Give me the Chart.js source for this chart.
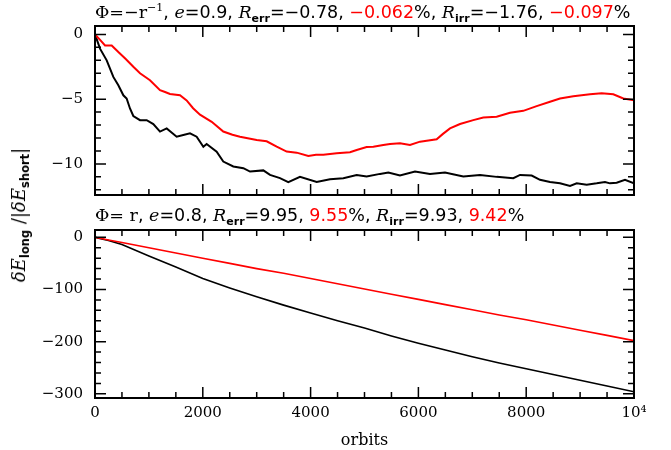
<!DOCTYPE html>
<html lang="en">
<head>
    <meta charset="utf-8">
    <title>Energy error drift</title>
    <style>
      * {
        margin: 0;
        padding: 0;
      }
      body {
        background: white;
      }
      .page {
        position: relative;
        width: 671px;
        height: 450px;
        overflow: hidden;
      }
      .panel {
        position: absolute;
        left: 0;
        width: 671px;
      }
      .ttl {
        position: absolute;
        left: 95px;
        font-family: 'DejaVu Sans', sans-serif;
        font-size: 17.5px;
        white-space: nowrap;
        color: #000;
      }
      .ttl .rm { font-family: 'DejaVu Serif', serif; }
      .ttl i { font-family: 'DejaVu Serif', serif; font-style: italic; }
      .ttl sub { font-size: 11px; font-weight: bold; vertical-align: -4px; }
      .ttl sup { font-size: 11px; vertical-align: 7px; }
      .red { color: #ff0000; }
      .ylab {
        position: absolute;
        left: 20px;
        top: 215px;
        transform: translate(-50%, -50%) rotate(-90deg);
        font-family: 'DejaVu Serif', serif;
        font-size: 18px;
        white-space: nowrap;
      }
      .ylab i { font-style: italic; }
      .ylab sub { font-size: 11.5px; font-weight: bold; font-family: 'DejaVu Sans', sans-serif; vertical-align: -4px; }
    </style>
</head>
<body>
    <div class="page">
      <div class="panel" style="top:0;height:205px"><canvas id="topChart"></canvas></div>
      <div class="panel" style="top:205px;height:245px"><canvas id="botChart"></canvas></div>
      <div class="ttl" style="top:1px"><span class="rm">Φ=−r<sup>−1</sup></span>, <i>e</i>=0.9, <i>R</i><sub>err</sub>=−0.78, <span class="red">−0.062</span>%, <i>R</i><sub>irr</sub>=−1.76, <span class="red">−0.097</span>%</div>
      <div class="ttl" style="top:205px"><span class="rm">Φ= r</span>, <i>e</i>=0.8, <i>R</i><sub>err</sub>=9.95, <span class="red">9.55</span>%, <i>R</i><sub>irr</sub>=9.93, <span class="red">9.42</span>%</div>
      <div class="ylab"><i>δE</i><sub>long</sub> /|<i>δE</i><sub>short</sub>|</div>
    </div>
    <script src="https://cdn.jsdelivr.net/npm/chart.js/dist/chart.umd.min.js"></script>
    <script>
        // top panel: Phi = -1/r, e = 0.9
        const topRedX = [0, 90, 186, 310, 433, 570, 711, 835, 1020, 1206, 1300, 1391, 1577, 1700, 1820, 1948, 2165, 2380, 2550, 2690, 3000, 3185, 3371, 3556, 3742, 3958, 4100, 4236, 4484, 4731, 4855, 5040, 5164, 5349, 5473, 5658, 5844, 6030, 6339, 6450, 6586, 6772, 7018, 7204, 7452, 7699, 7946, 8194, 8442, 8627, 8874, 9184, 9400, 9616, 9802, 10000];
        const topRedY = [0, -0.4, -0.85, -0.85, -1.36, -1.9, -2.5, -3.0, -3.54, -4.3, -4.45, -4.6, -4.7, -5.1, -5.7, -6.2, -6.75, -7.5, -7.75, -7.9, -8.15, -8.25, -8.67, -9.05, -9.13, -9.38, -9.3, -9.3, -9.18, -9.1, -8.92, -8.7, -8.67, -8.54, -8.46, -8.41, -8.54, -8.28, -8.1, -7.7, -7.26, -6.92, -6.62, -6.41, -6.36, -6.05, -5.9, -5.54, -5.2, -4.95, -4.77, -4.62, -4.55, -4.62, -4.95, -5.08];
        const topBlackX = [0, 93, 217, 340, 433, 526, 587, 649, 711, 835, 959, 1082, 1206, 1330, 1515, 1638, 1762, 1886, 2010, 2071, 2257, 2380, 2566, 2752, 2876, 3123, 3247, 3432, 3586, 3803, 4113, 4360, 4607, 4855, 5040, 5288, 5442, 5658, 5937, 6215, 6493, 6833, 7143, 7452, 7761, 7885, 8102, 8256, 8442, 8627, 8813, 8937, 9122, 9308, 9462, 9555, 9678, 9833, 10000];
        const topBlackY = [0, -1.1, -2.0, -3.28, -3.92, -4.7, -4.95, -5.72, -6.3, -6.62, -6.62, -6.92, -7.5, -7.26, -7.9, -7.77, -7.64, -7.9, -8.67, -8.46, -9.05, -9.82, -10.2, -10.33, -10.59, -10.5, -10.85, -11.1, -11.4, -11.0, -11.4, -11.18, -11.1, -10.85, -10.97, -10.77, -10.67, -10.9, -10.59, -10.77, -10.67, -10.97, -10.85, -11.0, -11.1, -10.85, -10.9, -11.23, -11.4, -11.5, -11.7, -11.5, -11.6, -11.5, -11.4, -11.5, -11.45, -11.23, -11.5];

        // bottom panel: Phi = r, e = 0.8
        const botX = [0, 250, 500, 1000, 1500, 2000, 2500, 3000, 3500, 4000, 4500, 5000, 5500, 6000, 6500, 7000, 7500, 8000, 8500, 9000, 9500, 10000];
        const botRed = [0, -5, -10, -20, -30, -40, -50, -60, -69, -79, -89, -99, -109, -119, -129, -139, -149, -158, -168, -178, -188, -198];
        const botBlack = [0, -6, -14, -36, -57, -79, -97, -114, -130, -145, -160, -174, -189, -203, -216, -229, -241, -252, -263, -274, -285, -296];

        // labelled ticks
        const xTickLabels = [0, 2000, 4000, 6000, 8000, 10000];
        const topYTicks = [0, -5, -10];
        const botYTicks = [0, -100, -200, -300];

        const pts = (xs, ys) => xs.map((x, i) => ({ x: x, y: ys[i] }));
        const minus = v => (v < 0 ? '\u2212' + Math.abs(v) : String(v));

        function stepsBetween(lo, hi, step) {
            const out = [];
            for (let v = Math.ceil(lo / step) * step; v <= hi + 1e-9; v += step) out.push(v);
            return out;
        }

        // box frame with inward ticks on all four sides
        const frameTicks = {
            id: 'frameTicks',
            afterDraw(chart, args, opts) {
                const { ctx, chartArea: a, scales } = chart;
                const x = scales.x, y = scales.y;
                ctx.save();
                ctx.strokeStyle = '#000';
                ctx.lineWidth = 1.5;
                ctx.beginPath();
                stepsBetween(x.min, x.max, opts.xMinor).forEach(v => {
                    const p = x.getPixelForValue(v);
                    const len = Math.abs(v % opts.xMajor) < 1e-6 ? 11 : 6;
                    ctx.moveTo(p, a.bottom); ctx.lineTo(p, a.bottom - len);
                    ctx.moveTo(p, a.top); ctx.lineTo(p, a.top + len);
                });
                stepsBetween(y.min, y.max, opts.yMinor).forEach(v => {
                    const p = y.getPixelForValue(v);
                    const len = Math.abs(v % opts.yMajor) < 1e-6 ? 11 : 6;
                    ctx.moveTo(a.left, p); ctx.lineTo(a.left + len, p);
                    ctx.moveTo(a.right, p); ctx.lineTo(a.right - len, p);
                });
                ctx.stroke();
                ctx.lineWidth = 2;
                ctx.strokeRect(a.left, a.top, a.right - a.left, a.bottom - a.top);
                ctx.restore();
            }
        };

        const tickFont = { family: "'DejaVu Serif', serif", size: 15 };
        const noGrid = { display: false, drawTicks: false };

        function lineSet(data, color, width) {
            return {
                data: data,
                borderColor: color,
                borderWidth: width,
                pointRadius: 0,
                tension: 0,
                fill: false
            };
        }

        // y axis with a fixed width so both panels line up
        function fixY(s) {
            s.width = 95;
            s.paddingTop = 0;
            s.paddingBottom = 0;
        }

        new Chart(document.getElementById('topChart'), {
            type: 'line',
            data: {
                datasets: [
                    lineSet(pts(topRedX, topRedY), '#ff0000', 2),
                    lineSet(pts(topBlackX, topBlackY), '#000000', 2)
                ]
            },
            options: {
                responsive: true,
                maintainAspectRatio: false,
                animation: false,
                layout: { padding: { top: 26, right: 37, left: 0, bottom: 0 } },
                plugins: {
                    legend: { display: false },
                    tooltip: { enabled: false },
                    frameTicks: { xMinor: 500, xMajor: 2000, yMinor: 1, yMajor: 5 }
                },
                scales: {
                    x: {
                        type: 'linear', min: 0, max: 10000,
                        grid: noGrid, border: { display: false },
                        ticks: { display: false },
                        afterFit: s => { s.height = 10; }
                    },
                    y: {
                        min: -12.4, max: 0.65,
                        grid: noGrid, border: { display: false },
                        afterBuildTicks: s => { s.ticks = topYTicks.map(v => ({ value: v })); },
                        afterFit: fixY,
                        ticks: { font: tickFont, color: '#000', padding: 12, callback: v => minus(v) }
                    }
                }
            },
            plugins: [frameTicks]
        });

        new Chart(document.getElementById('botChart'), {
            type: 'line',
            data: {
                datasets: [
                    lineSet(pts(botX, botRed), '#ff0000', 1.6),
                    lineSet(pts(botX, botBlack), '#000000', 1.6)
                ]
            },
            options: {
                responsive: true,
                maintainAspectRatio: false,
                animation: false,
                layout: { padding: { top: 25, right: 37, left: 0, bottom: 0 } },
                plugins: {
                    legend: { display: false },
                    tooltip: { enabled: false },
                    frameTicks: { xMinor: 500, xMajor: 2000, yMinor: 20, yMajor: 100 }
                },
                scales: {
                    x: {
                        type: 'linear', min: 0, max: 10000,
                        grid: noGrid, border: { display: false },
                        afterBuildTicks: s => { s.ticks = xTickLabels.map(v => ({ value: v })); },
                        afterFit: s => { s.height = 52; },
                        ticks: {
                            font: tickFont, color: '#000', padding: 6, maxRotation: 0,
                            callback: v => (v === 10000 ? '10\u2074' : String(v))
                        },
                        title: {
                            display: true, text: 'orbits', color: '#000',
                            font: { family: "'DejaVu Serif', serif", size: 16 },
                            padding: { top: 1, bottom: 0 }
                        }
                    },
                    y: {
                        min: -308, max: 14,
                        grid: noGrid, border: { display: false },
                        afterBuildTicks: s => { s.ticks = botYTicks.map(v => ({ value: v })); },
                        afterFit: fixY,
                        ticks: { font: tickFont, color: '#000', padding: 12, callback: v => minus(v) }
                    }
                }
            },
            plugins: [frameTicks]
        });
    </script>
</body>
</html>
